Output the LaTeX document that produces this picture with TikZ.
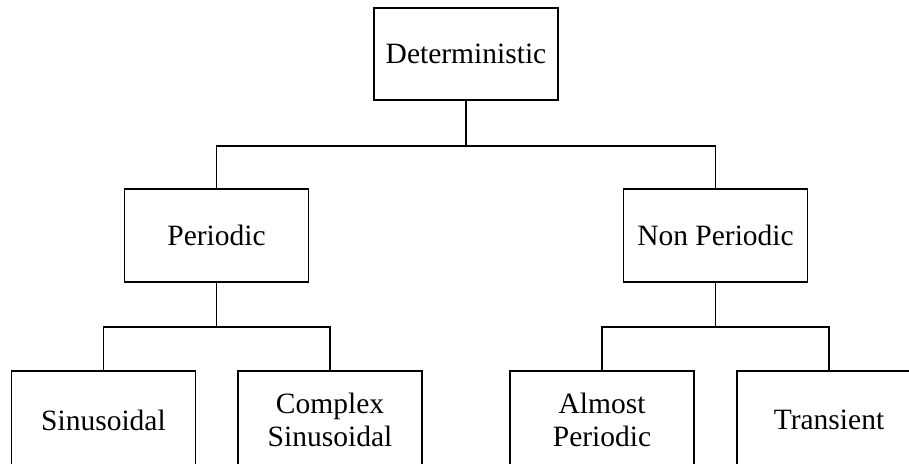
\documentclass[tikz,border=0pt]{standalone}
\usepackage{fontspec}
\setmainfont{Liberation Serif}
\begin{document}
\begin{tikzpicture}[x=1pt,y=-1pt,
  box/.style={draw,line width=1.8pt,minimum width=184pt,minimum height=93pt,inner sep=0pt,
    align=center,font=\fontsize{29.5}{33}\selectfont},
  link/.style={line width=1.8pt}]
\useasboundingbox (0,0) rectangle (909,463);
\node[box,minimum height=92pt] (det) at (466,54) {Deterministic};
\node[box] (per) at (216.5,235.5) {Periodic};
\node[box] (non) at (715.5,235.5) {Non Periodic};
\node[box,minimum height=98pt] (sin) at (103.5,420) {Sinusoidal};
\node[box,minimum height=98pt] (cs) at (330,420) {Complex\\Sinusoidal};
\node[box,minimum height=98pt] (alm) at (602,420) {Almost\\Periodic};
\node[box,minimum height=98pt] (tra) at (829,420) {Transient};
\coordinate (j0) at (466,146);
\coordinate (j1) at (216.5,327);
\coordinate (j2) at (715.5,327);
\draw[link] (det.south) -- (j0);
\draw[link] (per.north) |- (j0) -| (non.north);
\draw[link] (per.south) -- (j1);
\draw[link] (sin.north) |- (j1) -| (cs.north);
\draw[link] (non.south) -- (j2);
\draw[link] (alm.north) |- (j2) -| (tra.north);
\end{tikzpicture}
\end{document}
